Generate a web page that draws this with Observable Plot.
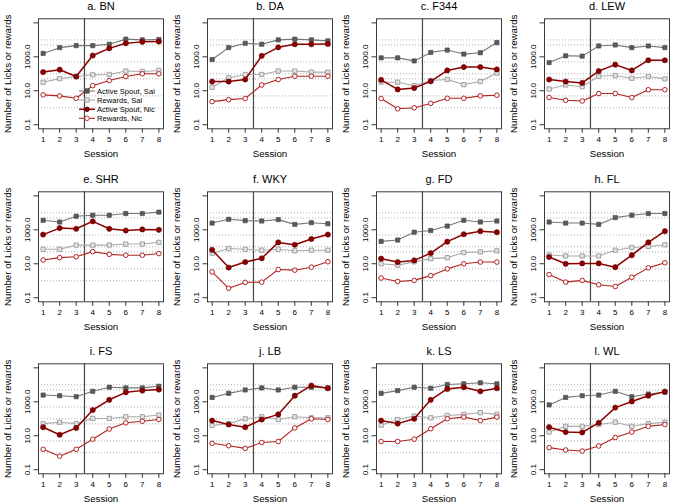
<!DOCTYPE html>
<html>
<head>
<meta charset="utf-8">
<script src="https://cdn.jsdelivr.net/npm/d3@7"></script>
<script src="https://cdn.jsdelivr.net/npm/@observablehq/plot@0.6"></script>
<style>
  html, body { margin: 0; padding: 0; background: #fff; }
  #wrap { position: relative; width: 675px; height: 503px; overflow: hidden; background: #fff;
          font-family: "Liberation Sans", Arial, Helvetica, sans-serif; }
  .panel { position: absolute; }
  #legend { position: absolute; left: 0; top: 0; }
</style>
</head>
<body>
<div id="wrap"></div>
<script>
const panelTitles = ["a. BN", "b. DA", "c. F344", "d. LEW", "e. SHR", "f. WKY", "g. FD", "h. FL", "i. FS", "j. LB", "k. LS", "l. WL"];
const sessions = [1, 2, 3, 4, 5, 6, 7, 8];

const activeSal = [
  [1585, 3470, 4570, 4570, 5500, 11000, 10000, 10500],
  [690, 3470, 6300, 5500, 10000, 11000, 10000, 8700],
  [870, 870, 575, 1820, 2500, 1450, 1740, 6900],
  [457, 1150, 1100, 4370, 5000, 3470, 4370, 3470],
  [3630, 2880, 6300, 7240, 7240, 9100, 9100, 11000],
  [2500, 4170, 3470, 3300, 4000, 2090, 2630, 2290],
  [209, 250, 725, 910, 1660, 3630, 2880, 3300],
  [2880, 2500, 2500, 2090, 5250, 7240, 9100, 9100],
  [2500, 2290, 2000, 4170, 7240, 6600, 6600, 8300],
  [1820, 3160, 5000, 6600, 5000, 7240, 7240, 6600],
  [3160, 4570, 7240, 6300, 10500, 11500, 13200, 11500],
  [660, 1820, 2290, 2500, 4170, 2000, 2880, 3630]
];
const rewardsSal = [
  [31.6, 52, 69, 87, 91, 145, 138, 158],
  [16, 58, 91, 91, 145, 145, 126, 126],
  [32, 32, 20, 40, 46, 23, 35, 110],
  [12.6, 22, 17.4, 72, 79, 55, 69, 50],
  [72, 72, 126, 126, 126, 145, 145, 182],
  [42, 79, 72, 63, 72, 58, 63, 63],
  [10, 8.3, 13, 20, 23, 46, 50, 58],
  [33, 29, 29, 29, 63, 91, 105, 132],
  [52, 63, 52, 105, 105, 132, 132, 166],
  [40, 52, 100, 132, 91, 132, 115, 115],
  [42, 91, 145, 115, 158, 182, 229, 182],
  [16.6, 36, 36, 46, 63, 36, 52, 63]
];
const activeNic = [
  [126, 174, 69, 1200, 3160, 6300, 7600, 7940],
  [35, 35, 46, 1150, 3630, 5500, 5500, 5750],
  [44, 12, 14.5, 36, 158, 250, 250, 182],
  [46, 35, 29, 145, 347, 158, 630, 630],
  [525, 1260, 1150, 3160, 1150, 910, 1050, 1000],
  [66, 6.0, 12.6, 21, 182, 132, 288, 525],
  [20, 12.6, 15.8, 42, 200, 550, 830, 725],
  [25, 10, 10.5, 10.5, 6.3, 32, 182, 830],
  [32, 11.5, 29, 330, 1320, 3630, 4570, 5250],
  [79, 46, 32, 91, 182, 2290, 9100, 6300],
  [79, 52, 100, 1320, 5750, 7240, 4170, 6300],
  [32, 16.6, 15.8, 58, 457, 1050, 2290, 4000]
];
const rewardsNic = [
  [5.75, 5.0, 3.6, 20, 40, 69, 100, 100],
  [2.3, 3.0, 3.5, 22, 46, 72, 72, 72],
  [3.5, 0.87, 1.0, 1.8, 3.6, 3.6, 5.0, 5.5],
  [4.0, 2.75, 2.5, 6.9, 6.9, 4.0, 11.5, 11.5],
  [16.6, 23, 26, 52, 36, 32, 32, 40],
  [3.3, 0.36, 0.8, 0.83, 4.6, 4.2, 6.3, 13.2],
  [1.45, 0.91, 1.05, 2.0, 5.0, 10, 12.6, 12.6],
  [2.3, 0.83, 1.05, 0.58, 0.46, 1.6, 5.75, 11.5],
  [1.6, 0.63, 1.6, 6.3, 25, 58, 72, 91],
  [3.6, 2.6, 1.8, 4.0, 4.6, 29, 100, 91],
  [4.6, 4.6, 6.3, 26, 100, 126, 79, 126],
  [2.0, 1.45, 1.26, 2.5, 7.9, 16.6, 36, 46]
];

const yTicks = [0.1, 10, 1000, 100000];
const yTickLabels = ["0.1", "10.0", "1000.0", ""];
const gridValues = [1, 5, 50, 100, 500, 5000, 10000];
const phaseBreak = [3.5];
const seriesNames = ["Active Spout, Sal", "Rewards, Sal", "Active Spout, Nic", "Rewards, Nic"];

const FONT = '"Liberation Sans", Arial, Helvetica, sans-serif';
const colW = 168.75, rowH = 172.5;
const wrap = document.getElementById("wrap");

function rows(values) { return sessions.map((s, i) => ({s, v: values[i]})); }

panelTitles.forEach((title, p) => {
  const col = p % 4, row = Math.floor(p / 4);
  const aS = rows(activeSal[p]), rS = rows(rewardsSal[p]), aN = rows(activeNic[p]), rN = rows(rewardsNic[p]);
  const chart = Plot.plot({
    width: colW, height: 158,
    marginLeft: 38, marginRight: 5.75, marginTop: 18.3, marginBottom: 29.7,
    x: {domain: [0.72, 8.28]},
    y: {type: "log", domain: [Math.pow(10, -1.24), Math.pow(10, 5.24)]},
    style: {fontFamily: FONT, fontSize: "8px", background: "transparent", overflow: "visible", color: "#000"},
    marks: [
      Plot.ruleY(gridValues, {stroke: "#b0b0b0", strokeDasharray: "1,2", strokeWidth: 1}),
      Plot.ruleX(phaseBreak, {stroke: "#444", strokeWidth: 1.2}),
      Plot.line(aS, {x: "s", y: "v", stroke: "#777", strokeWidth: 1.1}),
      Plot.dot(aS, {x: "s", y: "v", symbol: "square", r: 2.4, fill: "#5a5a5a", stroke: "#444", strokeWidth: 0.6}),
      Plot.line(rS, {x: "s", y: "v", stroke: "#ababab", strokeWidth: 1.1}),
      Plot.dot(rS, {x: "s", y: "v", symbol: "square", r: 2.4, fill: "#e4e4e4", stroke: "#999", strokeWidth: 0.9}),
      Plot.line(aN, {x: "s", y: "v", stroke: "#8b0000", strokeWidth: 1.5}),
      Plot.dot(aN, {x: "s", y: "v", r: 2.6, fill: "#8b0000", stroke: "#6a0000", strokeWidth: 0.6}),
      Plot.line(rN, {x: "s", y: "v", stroke: "#b22222", strokeWidth: 1.1}),
      Plot.dot(rN, {x: "s", y: "v", r: 2.3, fill: "#fff", stroke: "#b22222", strokeWidth: 1}),
      Plot.frame({stroke: "#3a3a3a", strokeWidth: 1}),
      Plot.axisX({ticks: sessions, tickSize: 4.5, tickPadding: 3.5, fontSize: 8, label: null, stroke: "#333"}),
      Plot.axisY({ticks: yTicks, tickSize: 4.5, tickFormat: () => "", label: null, stroke: "#333"}),
      Plot.text(yTicks, {y: d => d, frameAnchor: "left", text: (d, i) => yTickLabels[i], rotate: -90,
                         textAnchor: "middle", lineAnchor: "middle", dx: -11, fontSize: 8, fill: "#000"}),
      Plot.text([title], {frameAnchor: "top", textAnchor: "middle", lineAnchor: "middle", dy: -12.8, fontSize: 11, fill: "#000"}),
      Plot.text(["Session"], {frameAnchor: "bottom", textAnchor: "middle", lineAnchor: "middle", dy: 25, fontSize: 9.7, fill: "#000"}),
      Plot.text(["Number of Licks or rewards"], {frameAnchor: "left", textAnchor: "middle", lineAnchor: "middle", rotate: -90, dx: -31, fontSize: 9.7, fill: "#000"})
    ]
  });
  const div = document.createElement("div");
  div.className = "panel";
  div.style.left = (col * colW) + "px";
  div.style.top = (row * rowH) + "px";
  div.appendChild(chart);
  wrap.appendChild(div);
});

// legend inside panel a (bottom right)
const legendRows = [
  {y: 91, line: "#777", lw: 1.1, sym: "square", fill: "#5a5a5a", stroke: "#444"},
  {y: 100, line: "#ababab", lw: 1.1, sym: "square", fill: "#e4e4e4", stroke: "#999"},
  {y: 109.3, line: "#8b0000", lw: 1.5, sym: "circle", fill: "#8b0000", stroke: "#6a0000"},
  {y: 118.3, line: "#b22222", lw: 1.1, sym: "circle", fill: "#fff", stroke: "#b22222"}
];
const ns = "http://www.w3.org/2000/svg";
const lg = document.createElementNS(ns, "svg");
lg.setAttribute("id", "legend");
lg.setAttribute("width", 675); lg.setAttribute("height", 140);
lg.style.position = "absolute"; lg.style.left = "0px"; lg.style.top = "0px";
legendRows.forEach((r, i) => {
  const l = document.createElementNS(ns, "line");
  l.setAttribute("x1", 79); l.setAttribute("x2", 95); l.setAttribute("y1", r.y); l.setAttribute("y2", r.y);
  l.setAttribute("stroke", r.line); l.setAttribute("stroke-width", r.lw);
  lg.appendChild(l);
  let s;
  if (r.sym === "square") {
    s = document.createElementNS(ns, "rect");
    s.setAttribute("x", 87 - 2.1); s.setAttribute("y", r.y - 2.1); s.setAttribute("width", 4.2); s.setAttribute("height", 4.2);
  } else {
    s = document.createElementNS(ns, "circle");
    s.setAttribute("cx", 87); s.setAttribute("cy", r.y); s.setAttribute("r", 2.3);
  }
  s.setAttribute("fill", r.fill); s.setAttribute("stroke", r.stroke); s.setAttribute("stroke-width", 0.9);
  lg.appendChild(s);
  const t = document.createElementNS(ns, "text");
  t.setAttribute("x", 97); t.setAttribute("y", r.y); t.setAttribute("dy", "0.35em");
  t.setAttribute("font-size", 7.6); t.setAttribute("font-family", FONT); t.setAttribute("fill", "#000");
  t.textContent = seriesNames[i];
  lg.appendChild(t);
});
wrap.appendChild(lg);
</script>
</body>
</html>
